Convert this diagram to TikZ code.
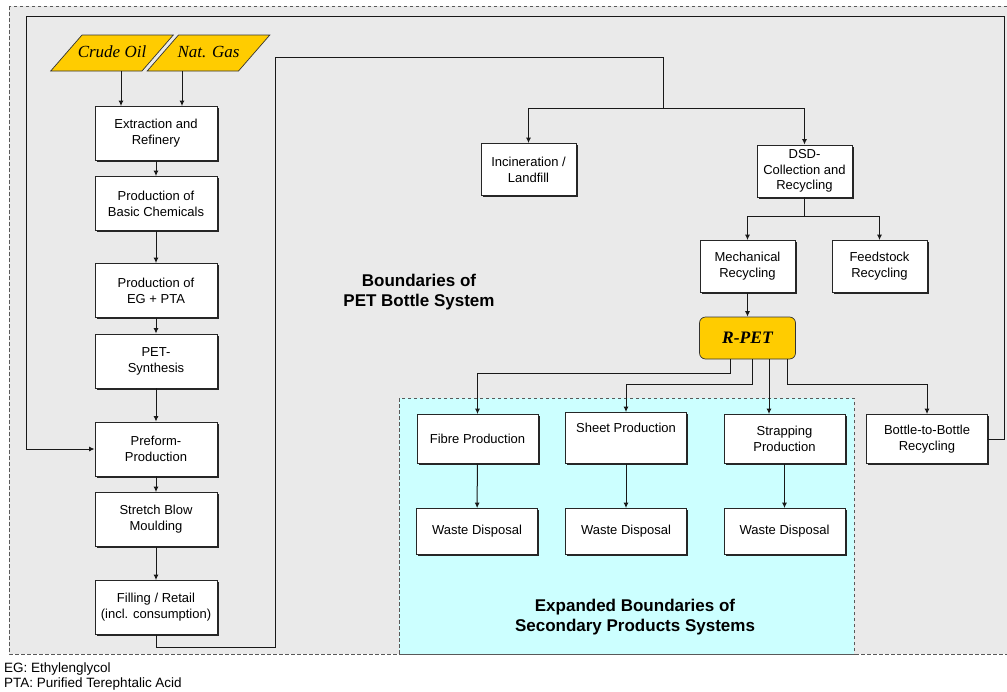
\documentclass[tikz,border=0pt]{standalone}
\usepackage{fontspec}
\setmainfont{Liberation Sans}
\newfontfamily\serifit{Liberation Serif}
\usetikzlibrary{shapes.geometric,shadows,arrows.meta}

\definecolor{harmaa}{HTML}{EAEAEA}
\definecolor{syaani}{HTML}{CCFFFF}
\definecolor{kulta}{HTML}{FFCC00}

\begin{document}
\begin{tikzpicture}[x=1pt, y=-1pt,
    laatikko/.style={draw=black!85, fill=white, line width=0.8pt, align=center,
      font=\fontsize{13}{16}\selectfont, inner sep=2pt,
      drop shadow={shadow xshift=1.6pt, shadow yshift=-1.6pt, opacity=1, fill=black!85}},
    pitka/.style={laatikko, minimum width=122pt, minimum height=54pt},
    keski/.style={laatikko, minimum width=95pt, minimum height=52pt},
    leve/.style={laatikko, minimum width=121pt, minimum height=49pt},
    raaka/.style={trapezium, trapezium left angle=49, trapezium right angle=131,
      trapezium stretches body=true, draw=black!80, fill=kulta, line width=0.7pt,
      text height=12pt, text depth=4pt,
      inner xsep=0pt, inner ysep=10pt, outer sep=0pt,
      font=\serifit\itshape\fontsize{17}{20}\selectfont},
    kulta/.style={draw=black!80, fill=kulta, line width=0.7pt, rounded corners=6pt,
      minimum width=96pt, minimum height=42pt,
      font=\serifit\bfseries\itshape\fontsize{17.5}{20}\selectfont},
    nuoli/.style={line width=1pt, draw=black!90, -{Latex[length=5.5pt,width=5pt]}},
    viiva/.style={line width=1pt, draw=black!90},
    raja/.style={dash pattern=on 3.5pt off 2.5pt, draw=black!65, line width=0.8pt},
    otsikko/.style={font=\bfseries\fontsize{17}{20.5}\selectfont, align=center},
    alaviite/.style={font=\fontsize{13.5}{15}\selectfont, anchor=base west, inner sep=0pt}]

  \useasboundingbox (0,0) rectangle (1007,691);

  % Rajat
  \draw[raja, fill=harmaa] (9,6) rectangle (1012,654);
  \draw[raja, fill=syaani] (399,398) rectangle (854,654);

  % Raaka-aineet ja tuotantoketju
  \node[raaka] (oljy) at (112,53) {\makebox[60pt]{Crude Oil}};
  \node[raaka] (kaasu) at (208.5,53) {\makebox[60pt]{Nat. Gas}};
  \node[pitka] (louhinta) at (156,133.5) {Extraction and\\Refinery};
  \node[pitka] (kemikaali) at (156,203.5) {Production of\\Basic Chemicals};
  \node[pitka] (egpta) at (156,290.5) {Production of\\EG + PTA};
  \node[pitka] (synteesi) at (156,361) {PET-\\Synthesis};
  \node[pitka] (aihio) at (156,449) {Preform-\\Production};
  \node[pitka] (puhallus) at (156,519.5) {Stretch Blow\\Moulding};
  \node[pitka] (taytto) at (156,607.5) {Filling / Retail\\(incl. consumption)};

  % Jatekasittely ja kierratys
  \node[keski] (poltto) at (528.5,169.5) {Incineration /\\Landfill};
  \node[keski, font=\fontsize{13}{15.5}\selectfont] (dsd) at (804.5,171)
    {DSD-\\Collection and\\Recycling};
  \node[keski] (mekaaninen) at (747.5,266.5) {Mechanical\\Recycling};
  \node[keski] (syotto) at (879.5,266.5) {Feedstock\\Recycling};
  \node[kulta] (rpet) at (747.5,338) {R-PET};

  % Sekundaarituotteet
  \node[leve] (kuitu) at (477.5,439) {Fibre Production};
  \node[leve, minimum height=51pt] (levy) at (626,438) {Sheet Production\\\strut};
  \node[leve] (vanne) at (784.5,439) {Strapping\\Production};
  \node[leve] (pullo) at (927,439) {Bottle-to-Bottle\\Recycling};
  \node[leve, minimum height=46pt] (jate1) at (477,531.5) {Waste Disposal};
  \node[leve, minimum height=46pt] (jate2) at (626,531.5) {Waste Disposal};
  \node[leve, minimum height=46pt] (jate3) at (784.5,531.5) {Waste Disposal};

  % Tekstit
  \node[otsikko] (pettxt) at (419,292) {Boundaries of\\PET Bottle System};
  \node[otsikko] (laajtxt) at (635,617) {Expanded Boundaries of\\Secondary Products Systems};
  \node[alaviite] (fnEG) at (4,672) {EG: Ethylenglycol};
  \node[alaviite] (fnPTA) at (4,687) {PTA: Purified Terephtalic Acid};

  % Nuolet ketjussa
  \coordinate (oljyx) at ([xshift=-35pt]louhinta.north);
  \coordinate (kaasux) at ([xshift=26pt]louhinta.north);
  \draw[nuoli] (oljyx |- oljy.south) -- (oljyx);
  \draw[nuoli] (kaasux |- kaasu.south) -- (kaasux);
  \draw[nuoli] (louhinta) -- (kemikaali);
  \draw[nuoli] (kemikaali) -- (egpta);
  \draw[nuoli] (egpta) -- (synteesi);
  \draw[nuoli] (synteesi) -- (aihio);
  \draw[nuoli] (aihio) -- (puhallus);
  \draw[nuoli] (puhallus) -- (taytto);

  % Paluuvirta jatteeksi
  \coordinate (alakulma) at (275,647);
  \coordinate (ylakulma) at (275,57);
  \coordinate (haara) at (663,108);
  \draw[viiva] (taytto.south) |- (alakulma) -- (ylakulma) -| (haara);
  \draw[nuoli] (haara) -| (poltto.north);
  \draw[nuoli] (haara) -| (dsd.north);
  \draw[nuoli] (dsd.south) -- ++(0,19) -| (mekaaninen.north);
  \draw[nuoli] (dsd.south) -- ++(0,19) -| (syotto.north);
  \draw[nuoli] (mekaaninen) -- (rpet);

  % R-PET:n jakautuminen
  \coordinate (vannealku) at ([xshift=21.5pt]rpet.south);
  \draw[nuoli] ([xshift=-17.5pt]rpet.south) -- ++(0,14) -| (kuitu.north);
  \draw[nuoli] ([xshift=4.5pt]rpet.south) -- ++(0,25) -| (levy.north);
  \draw[nuoli] (vannealku) -- (vannealku |- vanne.north);
  \draw[nuoli] ([xshift=39.5pt]rpet.south) -- ++(0,25) -| (pullo.north);
  \draw[nuoli] (kuitu) -- (jate1);
  \draw[nuoli] (levy) -- (jate2);
  \draw[nuoli] (vanne) -- (jate3);

  % Pullosta pulloon -silmukka
  \coordinate (ylaoikea) at (1004,16);
  \coordinate (ylavasen) at (26,16);
  \draw[nuoli] (pullo.east) -| (ylaoikea) -- (ylavasen) |- (aihio.west);
\end{tikzpicture}
\end{document}
